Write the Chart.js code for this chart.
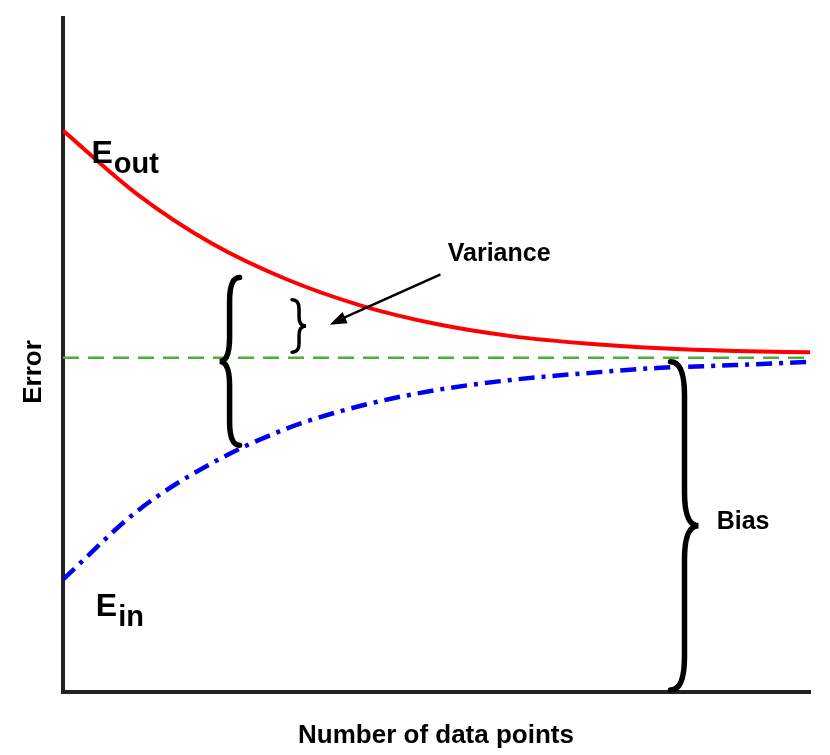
<!DOCTYPE html>
<html><head><meta charset="utf-8">
<script src="https://cdn.jsdelivr.net/npm/chart.js@4/dist/chart.umd.min.js"></script>
<style>html,body{margin:0;padding:0;background:#fff}#w{width:830px;height:755px}</style>
</head><body><div id="w"><canvas id="c"></canvas></div>
<script>
const xValues = [0,10,20,30,40,50,60,70,80,90,100];
const eOut = [83.3,73.8,66.5,61.2,57.3,54.6,52.8,51.7,51.0,50.6,50.4];
const eIn = [16.7,26.9,34.0,39.1,42.5,44.8,46.3,47.3,48.1,48.5,49.0];
const target = [49.6,49.6,49.6,49.6,49.6,49.6,49.6,49.6,49.6,49.6,49.6];
const labels = {out:'E', outSub:'out', inn:'E', inSub:'in', variance:'Variance', bias:'Bias', yTitle:'Error', xTitle:'Number of data points'};
const F = '"Liberation Sans", Arial, sans-serif';

function brace(ctx, x, y1, y2, w, dir){
  const mid=(y1+y2)/2, r=Math.min(w*1.2,(y2-y1)/6);
  ctx.beginPath();
  ctx.moveTo(x - dir*w/2, y1);
  ctx.quadraticCurveTo(x, y1, x, y1+r);
  ctx.lineTo(x, mid-r);
  ctx.quadraticCurveTo(x, mid, x+dir*w/2, mid);
  ctx.quadraticCurveTo(x, mid, x, mid+r);
  ctx.lineTo(x, y2-r);
  ctx.quadraticCurveTo(x, y2, x - dir*w/2, y2);
  ctx.stroke();
}
const deco = {id:'deco', afterDatasetsDraw(ch){
  const ctx=ch.ctx, X=ch.scales.x, Y=ch.scales.y, px=v=>X.getPixelForValue(v), py=v=>Y.getPixelForValue(v);
  ctx.save(); ctx.strokeStyle='#000'; ctx.lineCap='round'; ctx.lineWidth=5.5;
  brace(ctx, px(22.3), py(61.5), py(36.6), 20, -1);
  brace(ctx, px(83.2), py(49), py(0.3), 28, 1);
  ctx.lineWidth=3.5;
  brace(ctx, px(31.6), py(58.2), py(50.4), 14, 1);
  const ax1=px(50.4), ay1=py(61.9), ax2=px(35.7), ay2=py(54.5);
  ctx.lineWidth=2.5; ctx.beginPath(); ctx.moveTo(ax1,ay1); ctx.lineTo(ax2+10,ay2-5); ctx.stroke();
  const a=Math.atan2(ay2-ay1, ax2-ax1);
  ctx.fillStyle='#000'; ctx.beginPath(); ctx.moveTo(ax2,ay2);
  ctx.lineTo(ax2-18*Math.cos(a-0.35), ay2-18*Math.sin(a-0.35));
  ctx.lineTo(ax2-18*Math.cos(a+0.35), ay2-18*Math.sin(a+0.35)); ctx.fill();
  ctx.fillStyle='#000'; ctx.textBaseline='alphabetic';
  ctx.font='bold 32px '+F; ctx.textAlign='left';
  ctx.fillText(labels.out, px(3.8), py(78.5));
  ctx.fillText(labels.inn, px(4.4), py(11.3));
  const wE=ctx.measureText('E').width;
  ctx.font='bold 29px '+F;
  ctx.fillText(labels.outSub, px(3.8)+wE+1, py(77.0));
  ctx.fillText(labels.inSub, px(4.4)+wE+1, py(9.8));
  ctx.font='bold 25px '+F;
  ctx.fillText(labels.variance, px(51.5), py(63.9));
  ctx.fillText(labels.bias, px(87.5), py(24.2));
  ctx.font='bold 26px '+F;
  ctx.textAlign='center';
  ctx.fillText(labels.xTitle, 436, 743);
  ctx.save(); ctx.translate(41, 372); ctx.rotate(-Math.PI/2); ctx.fillText(labels.yTitle,0,0); ctx.restore();
  ctx.restore();
}};
new Chart(document.getElementById('c'), {
  type:'line',
  data:{labels:xValues, datasets:[
    {data:eOut, borderColor:'#f00', borderWidth:4, pointRadius:0, cubicInterpolationMode:'monotone'},
    {data:target, borderColor:'#4caf3a', borderWidth:2.5, borderDash:[16,9], pointRadius:0},
    {data:eIn, borderColor:'#0000ee', borderWidth:4.5, borderDash:[16,7,4,7], pointRadius:0, cubicInterpolationMode:'monotone'}
  ]},
  options:{responsive:true, maintainAspectRatio:false, animation:false,
    layout:{padding:{left:63, top:18, right:20, bottom:63}},
    plugins:{legend:{display:false}, tooltip:{enabled:false}},
    scales:{
      x:{type:'linear', min:0, max:100, ticks:{display:false}, grid:{display:false, drawTicks:false}, border:{color:'#222', width:4}},
      y:{min:0, max:100, ticks:{display:false}, grid:{display:false, drawTicks:false}, border:{color:'#222', width:4}}
    }},
  plugins:[deco]
});
</script></body></html>
